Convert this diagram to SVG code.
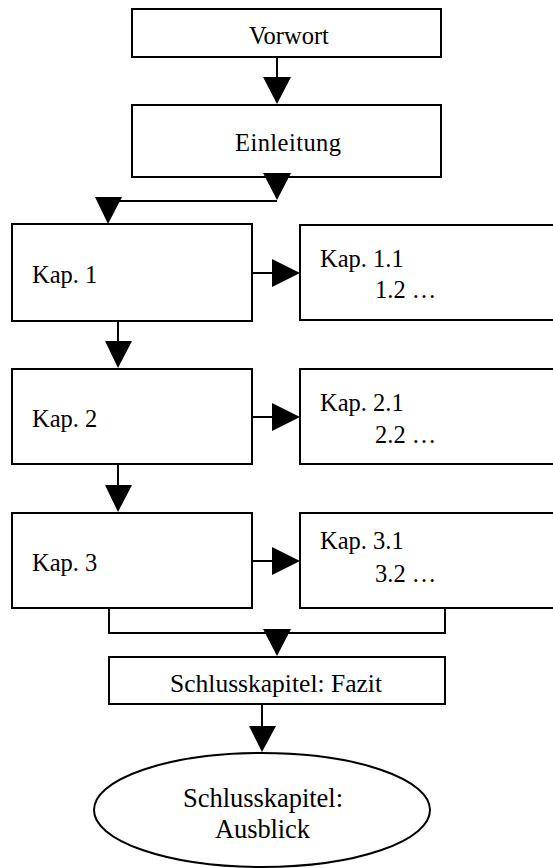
<svg xmlns="http://www.w3.org/2000/svg" width="553" height="868" viewBox="0 0 553 868">
<style>
.box{fill:#fff;stroke:#000;stroke-width:2}
.ln{fill:none;stroke:#000;stroke-width:2}
.ah{fill:#000;stroke:none}
.t{font-family:'Liberation Serif','Times New Roman','DejaVu Serif',serif;font-size:24.5px;fill:#000}
.c{text-anchor:middle}
</style>
<rect width="553" height="868" fill="#fff"/>
<g class="t">
<g id="vorwort"><rect class="box" x="132" y="9" width="309" height="48"/><text class="c" x="289" y="44">Vorwort</text></g>
<g id="einleitung"><rect class="box" x="132" y="105" width="309" height="72"/><text class="c" x="288" y="151" textLength="106" lengthAdjust="spacing">Einleitung</text></g>
<g id="kap1"><rect class="box" x="12" y="224" width="240" height="97"/><text x="32" y="283">Kap. 1</text></g>
<g id="kap11"><rect class="box" x="300" y="225" width="270" height="95"/><text x="320" y="267">Kap. 1.1</text><text x="375" y="298">1.2 …</text></g>
<g id="kap2"><rect class="box" x="12" y="369" width="240" height="95"/><text x="32" y="427">Kap. 2</text></g>
<g id="kap21"><rect class="box" x="300" y="369" width="270" height="95"/><text x="320" y="411">Kap. 2.1</text><text x="375" y="443">2.2 …</text></g>
<g id="kap3"><rect class="box" x="12" y="513" width="240" height="95"/><text x="32" y="571">Kap. 3</text></g>
<g id="kap31"><rect class="box" x="300" y="513" width="270" height="95"/><text x="320" y="549">Kap. 3.1</text><text x="375" y="582">3.2 …</text></g>
<g id="fazit"><rect class="box" x="109" y="657" width="336" height="47"/><text class="c" x="276" y="692" font-size="25.5" textLength="212" lengthAdjust="spacing">Schlusskapitel: Fazit</text></g>
<g id="ausblick"><ellipse class="box" cx="262" cy="810" rx="168" ry="57"/><text class="c" x="263" y="807" font-size="26.5" textLength="160" lengthAdjust="spacing">Schlusskapitel:</text><text class="c" x="262.5" y="838" font-size="26.5" textLength="95" lengthAdjust="spacing">Ausblick</text></g>
</g>
<g id="connectors">
<line class="ln" x1="277" y1="57" x2="277" y2="80"/>
<polygon class="ah" points="263,77 291,77 277,104"/>
<polygon class="ah" points="263,173 291,173 277,200"/>
<polyline class="ln" points="277,201 118,201"/>
<polygon class="ah" points="95,197 122,197 108,224"/>
<line class="ln" x1="252" y1="273" x2="275" y2="273"/>
<polygon class="ah" points="272,259 272,287 300,273"/>
<line class="ln" x1="118" y1="321" x2="118" y2="344"/>
<polygon class="ah" points="105,341 132,341 118,368"/>
<line class="ln" x1="252" y1="417" x2="275" y2="417"/>
<polygon class="ah" points="272,403 272,431 300,417"/>
<line class="ln" x1="118" y1="464" x2="118" y2="488"/>
<polygon class="ah" points="105,485 132,485 118,512"/>
<line class="ln" x1="252" y1="561" x2="275" y2="561"/>
<polygon class="ah" points="272,547 272,575 300,561"/>
<polyline class="ln" points="109,608 109,633 445,633 445,608"/>
<polygon class="ah" points="263,629 291,629 277,656"/>
<line class="ln" x1="262" y1="704" x2="262" y2="729"/>
<polygon class="ah" points="249,726 276,726 262,752"/>
</g>
</svg>
